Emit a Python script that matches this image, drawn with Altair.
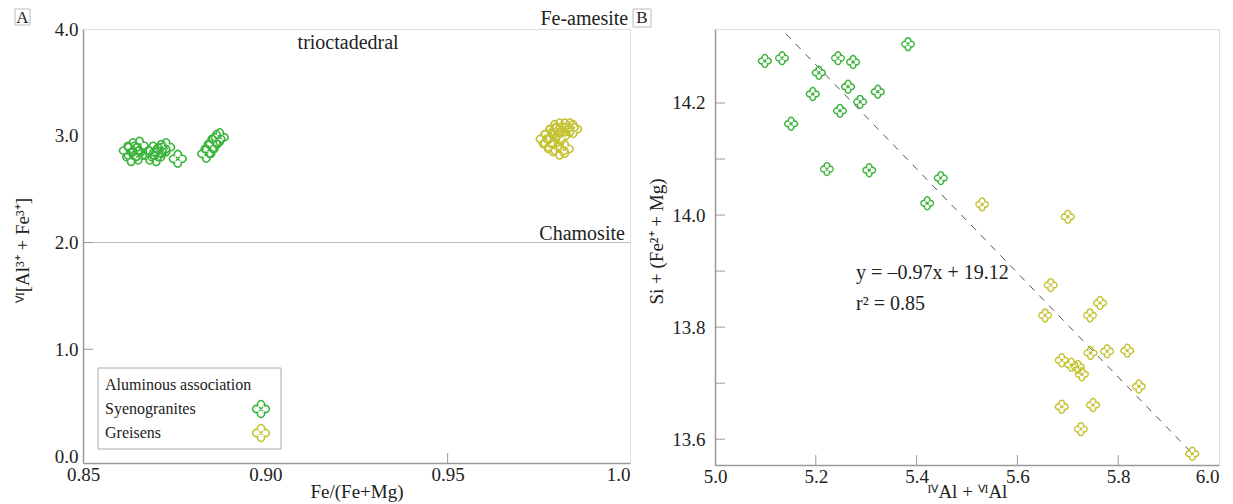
import altair as alt
import pandas as pd

FONT = "Liberation Serif"
TXT = "#222222"
AXC = "#9a9a9a"
GREEN = "#3cb43c"
YELLOW = "#c4c232"

# ---------------- data ----------------
groups = ["Syenogranites", "Greisens"]
legend_title = "Aluminous association"

# Panel A: Fe/(Fe+Mg) vs VI[Al3+ + Fe3+]
syeno_fe = [0.8623, 0.8637, 0.8646, 0.8651, 0.8632, 0.8655, 0.8683, 0.8692, 0.8706,
            0.8715, 0.8728, 0.8701, 0.8760, 0.8838, 0.8847, 0.8856, 0.8866, 0.8875]
syeno_al = [2.861, 2.893, 2.846, 2.815, 2.800, 2.908, 2.815, 2.861, 2.846,
            2.877, 2.893, 2.800, 2.784, 2.831, 2.877, 2.923, 2.970, 2.986]
greis_fe = [0.9766, 0.9780, 0.9793, 0.9807, 0.9821, 0.9835, 0.9844, 0.9798, 0.9811,
            0.9775, 0.9789, 0.9807, 0.9821, 0.9784]
greis_al = [2.970, 3.016, 3.063, 3.078, 3.078, 3.078, 3.063, 3.032, 3.000,
            2.923, 2.893, 2.861, 2.877, 2.970]

# Panel B: IVAl + VIAl vs Si + (Fe2+ + Mg)
syeno_alt = [5.099, 5.133, 5.206, 5.244, 5.274, 5.383, 5.194, 5.264, 5.288, 5.323,
             5.248, 5.151, 5.222, 5.306, 5.421, 5.448]
syeno_si = [14.275, 14.280, 14.254, 14.280, 14.273, 14.305, 14.216, 14.229, 14.202, 14.220,
            14.186, 14.163, 14.082, 14.080, 14.021, 14.066]
greis_alt = [5.530, 5.700, 5.666, 5.764, 5.655, 5.744, 5.745, 5.778, 5.818, 5.688,
             5.707, 5.720, 5.728, 5.841, 5.688, 5.750, 5.726, 5.947]
greis_si = [14.019, 13.997, 13.875, 13.843, 13.821, 13.821, 13.754, 13.757, 13.758, 13.741,
            13.733, 13.729, 13.716, 13.694, 13.658, 13.661, 13.618, 13.574]

# regression line as drawn (end points)
reg_x = [5.141, 5.954]
reg_y = [14.323, 13.568]

# reference lines / ticks
chamosite_y = [2.0]
a_xticks = [0.85, 0.90, 0.95, 1.0]
a_yticks = [0.0, 1.0, 2.0, 3.0, 4.0]
a_inner_yticks = [1.0, 2.0]
a_inner_xticks = [0.95]
b_xticks = [5.0, 5.2, 5.4, 5.6, 5.8, 6.0]
b_yticks = [13.6, 13.8, 14.0, 14.2]
b_inner_yticks = [13.6, 13.7, 13.8, 13.9, 14.0, 14.1, 14.2]
b_inner_xticks = [5.2, 5.4, 5.6, 5.8]

# ---------------- geometry ----------------
WA, HA = 547, 434
WB, HB = 504, 436
LBL = 19     # tick label size
TTL = 19     # axis title size
ANN = 20     # annotation size
LEG = 16     # legend text size

CLOVER = ("M -0.3 -0.3 A 0.35 0.35 0 1 1 0.3 -0.3 A 0.35 0.35 0 1 1 0.3 0.3 "
          "A 0.35 0.35 0 1 1 -0.3 0.3 A 0.35 0.35 0 1 1 -0.3 -0.3 Z "
          "M -0.2 -0.2 L 0.2 0.2 M 0.2 -0.2 L -0.2 0.2")

color_scale = alt.Scale(domain=groups, range=[GREEN, YELLOW])

def cond_align(last):
    return {"condition": {"test": f"datum.value == {last}", "value": "right"}, "value": "center"}

common = dict(ticks=False, grid=False, domainColor=AXC, domainWidth=1.5, labelFontSize=LBL,
              labelColor=TXT, labelFont=FONT, titleFont=FONT, titleFontSize=TTL,
              titleFontWeight="normal", titleColor=TXT)

axA_x = alt.Axis(values=a_xticks,
                 labelExpr="datum.value == 1 ? '1.0' : format(datum.value, '.2f')",
                 labelAlign=cond_align(1), labelPadding=2,
                 title="Fe/(Fe+Mg)", titleY=19, **common)
axA_y = alt.Axis(values=a_yticks, format=".1f", labelPadding=5,
                 title="ⱽᴵ[Al³⁺ + Fe³⁺]", titleX=-51, titleY=221, **common)
axB_x = alt.Axis(values=b_xticks, format=".1f", labelAlign=cond_align(6), labelPadding=2,
                 title="ᴵⱽAl + ⱽᴵAl", titleY=17, **common)
axB_y = alt.Axis(values=b_yticks, format=".1f", labelPadding=10,
                 title="Si + (Fe²⁺ + Mg)", titleX=-49, titleY=212, **common)

sxA = alt.Scale(domain=[0.85, 1.0], nice=False, zero=False)
syA = alt.Scale(domain=[-0.065, 4.0], nice=False, zero=False)
sxB = alt.Scale(domain=[5.0, 6.0], nice=False, zero=False)
syB = alt.Scale(domain=[13.554, 14.332], nice=False, zero=False)

def XA(f="x"):
    return alt.X(f"{f}:Q", scale=sxA, axis=axA_x)
def YA(f="y"):
    return alt.Y(f"{f}:Q", scale=syA, axis=axA_y)
def XB(f="x"):
    return alt.X(f"{f}:Q", scale=sxB, axis=axB_x)
def YB(f="y"):
    return alt.Y(f"{f}:Q", scale=syB, axis=axB_y)

one = pd.DataFrame({"k": [0]})

def txt(df_x, df_y, label, X, Y, align="left", size=ANN):
    d = pd.DataFrame({"x": [df_x], "y": [df_y], "t": [label]})
    return alt.Chart(d).mark_text(align=align, baseline="middle", font=FONT, fontSize=size,
                                  color=TXT).encode(x=X(), y=Y(), text="t:N")

def pixel_text(px, py, label, align="left", size=LEG):
    return alt.Chart(one).mark_text(align=align, baseline="middle", font=FONT, fontSize=size,
                                    color=TXT, text=label).encode(x=alt.value(px), y=alt.value(py))

def pixel_box(x1, x2, y1, y2, stroke="#aaaaaa"):
    return alt.Chart(one).mark_rect(fill="white", stroke=stroke, strokeWidth=1).encode(
        x=alt.value(x1), x2=alt.value(x2), y=alt.value(y1), y2=alt.value(y2))

# ---------------- Panel A ----------------
dfA = pd.DataFrame({
    "x": syeno_fe + greis_fe,
    "y": syeno_al + greis_al,
    "g": [groups[0]] * len(syeno_fe) + [groups[1]] * len(greis_fe),
})

chamo = alt.Chart(pd.DataFrame({"y": chamosite_y})).mark_rule(color="#bdbdbd", strokeWidth=1).encode(y=YA())
a_yt = alt.Chart(pd.DataFrame({"y": a_inner_yticks})).mark_rule(color=AXC, strokeWidth=1).encode(
    y=YA(), x=alt.value(0), x2=alt.value(10))
a_xt = alt.Chart(pd.DataFrame({"x": a_inner_xticks})).mark_rule(color=AXC, strokeWidth=1).encode(
    x=XA(), y=alt.value(HA), y2=alt.value(HA - 10))
ptsA = alt.Chart(dfA).mark_point(shape=CLOVER, filled=False, size=400, strokeWidth=1.5, opacity=1).encode(
    x=XA(), y=YA(), color=alt.Color("g:N", scale=color_scale, legend=None))

t_tri = txt(0.9227, 3.869, "trioctadedral", XA, YA, align="center")
t_cham = txt(0.9986, 2.08, "Chamosite", XA, YA, align="right")
t_fea = txt(0.9995, 4.094, "Fe-amesite", XA, YA, align="right")

leg_box = pixel_box(15, 198, 339, 420)
leg_t0 = pixel_text(22, 356, legend_title)
leg_t1 = pixel_text(22, 380, groups[0])
leg_t2 = pixel_text(22, 404, groups[1])
leg_s1 = alt.Chart(one).mark_point(shape=CLOVER, filled=False, size=400, strokeWidth=1.5,
                                   color=GREEN, opacity=1).encode(x=alt.value(178), y=alt.value(380))
leg_s2 = alt.Chart(one).mark_point(shape=CLOVER, filled=False, size=400, strokeWidth=1.5,
                                   color=YELLOW, opacity=1).encode(x=alt.value(178), y=alt.value(404))

labA_box = pixel_box(-68, -53, -20, -4, stroke="#bbbbbb")
labA = pixel_text(-60.5, -11, "A", align="center", size=17)

panelA = alt.layer(
    chamo, a_yt, a_xt, ptsA, t_tri, t_cham, t_fea,
    leg_box, leg_t0, leg_t1, leg_t2, leg_s1, leg_s2, labA_box, labA,
).properties(width=WA, height=HA)

# ---------------- Panel B ----------------
dfB = pd.DataFrame({
    "x": syeno_alt + greis_alt,
    "y": syeno_si + greis_si,
    "g": [groups[0]] * len(syeno_alt) + [groups[1]] * len(greis_alt),
})
dfReg = pd.DataFrame({"x": reg_x, "y": reg_y})

reg = alt.Chart(dfReg).mark_line(color="#555555", strokeWidth=1, strokeDash=[7, 7]).encode(x=XB(), y=YB())
b_yt = alt.Chart(pd.DataFrame({"y": b_inner_yticks})).mark_rule(color=AXC, strokeWidth=1).encode(
    y=YB(), x=alt.value(0), x2=alt.value(10))
b_xt = alt.Chart(pd.DataFrame({"x": b_inner_xticks})).mark_rule(color=AXC, strokeWidth=1).encode(
    x=XB(), y=alt.value(HB), y2=alt.value(HB - 10))
ptsB = alt.Chart(dfB).mark_point(shape=CLOVER, filled=False, size=235, strokeWidth=1.4, opacity=1).encode(
    x=XB(), y=YB(), color=alt.Color("g:N", scale=color_scale, legend=None))

t_eq = txt(5.28, 13.896, "y = –0.97x + 19.12", XB, YB, align="left")
t_r2 = txt(5.28, 13.841, "r² = 0.85", XB, YB, align="left")

labB_box = pixel_box(-82, -64, -20, -2, stroke="#bbbbbb")
labB = pixel_text(-73, -11, "B", align="center", size=17)

panelB = alt.layer(reg, b_yt, b_xt, ptsB, t_eq, t_r2, labB_box, labB).properties(width=WB, height=HB)

chart = alt.hconcat(panelA, panelB, spacing=85, bounds="flush").properties(
    padding={"left": 4, "top": 0, "right": 5, "bottom": 0}
).configure_view(stroke="#555555", strokeWidth=1).configure(font=FONT)

chart.save("out.html", embed_options={"renderer": "svg", "actions": False})
